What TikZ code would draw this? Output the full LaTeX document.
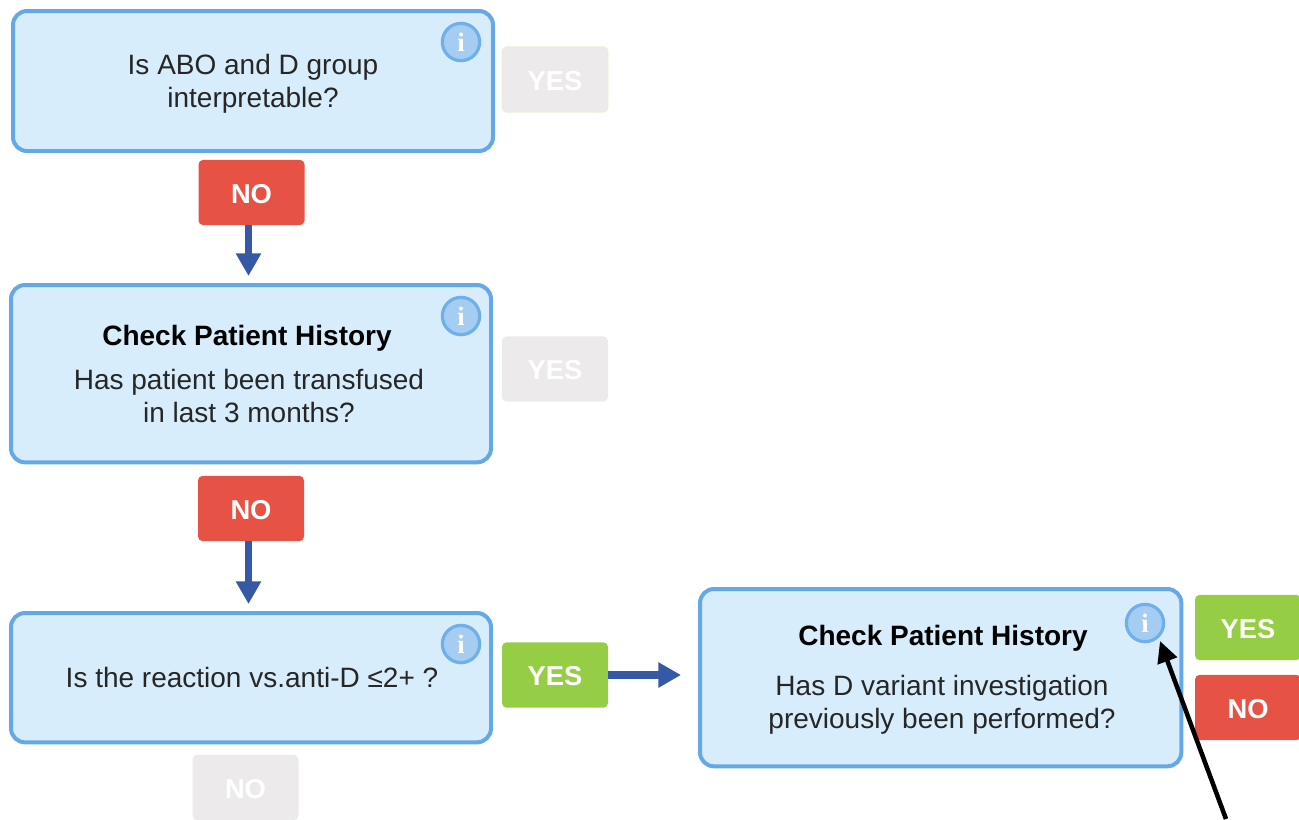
\documentclass[tikz,border=0pt]{standalone}
\usepackage{fontspec}
\setmainfont{Liberation Sans}
\newfontfamily\serifi{Liberation Serif}
\usetikzlibrary{arrows.meta}
\tikzset{
  x=0.75pt,y=-0.75pt,
  qbox/.style={draw=boxline,fill=boxfill,line width=3pt,rounded corners=10.5pt,anchor=north west,inner sep=0pt,outer sep=0pt},
  badge/.style={rounded corners=3.5pt,minimum width=79.5pt,minimum height=49pt,inner sep=0pt,outer sep=0pt,text=white,text height=16.2pt,text depth=0pt,font=\fontsize{20.5pt}{22pt}\selectfont\bfseries},
  yesb/.style={badge,fill=yesgreen},
  nob/.style={badge,fill=nored},
  offb/.style={badge,fill=offgray},
  infoi/.style={circle,draw=infoline,fill=infofill,line width=2.4pt,minimum size=28pt,inner sep=0pt,text=white,font=\fontsize{20pt}{20pt}\selectfont\serifi\bfseries},
  flow/.style={draw=flowblue,line width=5.3pt,-{Triangle[length=17pt,width=18pt,fill=flowblue]}},
  pointer/.style={draw=black,line width=3.4pt,-{Triangle[length=16pt,width=15pt,fill=black]}},
  head/.style={font=\fontsize{21pt}{24.5pt}\selectfont\bfseries,text=black,inner sep=0pt},
  body/.style={font=\fontsize{21pt}{24.5pt}\selectfont,text=black!85,align=center,inner sep=0pt}
}
\definecolor{boxline}{HTML}{64A9E6}
\definecolor{boxfill}{HTML}{D8EDFB}
\definecolor{yesgreen}{HTML}{95CE45}
\definecolor{nored}{HTML}{E65345}
\definecolor{offgray}{HTML}{ECEAEB}
\definecolor{infoline}{HTML}{70B0EA}
\definecolor{infofill}{HTML}{A4CDF1}
\definecolor{flowblue}{HTML}{3559A5}
\begin{document}
\begin{tikzpicture}
\useasboundingbox (0,0) rectangle (1299,819);
% question boxes
\node[qbox,minimum width=360pt,minimum height=105pt] (q1) at (13,11) {};
\node[qbox,minimum width=360pt,minimum height=133pt] (q2) at (11,285) {};
\node[qbox,minimum width=360pt,minimum height=97pt] (q3) at (11,613) {};
\node[qbox,minimum width=361pt,minimum height=133pt] (q4) at (700,589) {};
% texts
\node[body] (t1) at (253,84) {Is ABO and D group\\interpretable?};
\node[head] (h2) at (247,338) {Check Patient History};
\node[body] (t2) at (249,396) {Has patient been transfused\\in last 3 months?};
\node[body] (t3) at (252,677) {Is the reaction vs.anti-D ≤2+ ?};
\node[head] (h4) at (943,638) {Check Patient History};
\node[body] (t4) at (942,704.5) {Has D variant investigation\\previously been performed?};
% info icons
\node[infoi] (i1) at (461,42) {i};
\node[infoi] (i2) at (461,316) {i};
\node[infoi] (i3) at (461,644) {i};
\node[infoi] (i4) at (1145,623) {i};
% badges
\node[offb,draw=yesgreen!25,line width=0.7pt] (y1) at (555,79.5) {YES};
\node[nob] (n1) at (251.5,192.5) {NO};
\node[offb] (y2) at (555,369) {YES};
\node[nob] (n2) at (251,508.5) {NO};
\node[yesb] (y3) at (555,675) {YES};
\node[offb] (n3) at (245.5,787.5) {NO};
\node[yesb] (y4) at (1248,627.5) {YES};
\node[nob] (n4) at (1248,707.5) {NO};
% connectors
\coordinate (a1s) at (248.5,225);
\coordinate (a1e) at (248.5,276);
\draw[flow] (a1s) -- (a1e);
\coordinate (a2s) at (248.5,541);
\coordinate (a2e) at (248.5,604);
\draw[flow] (a2s) -- (a2e);
\coordinate (a3e) at (681,675);
\draw[flow] (y3.east) -- (a3e);
\coordinate (ptr) at (1226,819);
\coordinate (ptre) at (1160,641);
\draw[pointer] (ptr) -- (ptre);
\end{tikzpicture}
\end{document}
